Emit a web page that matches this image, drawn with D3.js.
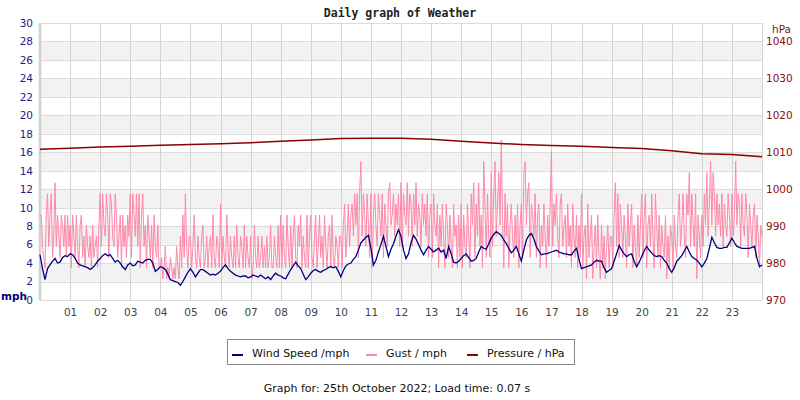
<!DOCTYPE html>
<html>
<head>
<meta charset="utf-8">
<script src="https://cdn.jsdelivr.net/npm/d3@7/dist/d3.min.js"></script>
<style>
  body { margin: 0; background: #fff; }
  svg { display: block; font-family: "DejaVu Sans", sans-serif; }
</style>
</head>
<body>
<div id="chart"></div>
<script>
// wind speed (mph), one reading every 5 minutes from 00:00 to 24:00
var windSpeed = [
  4.9, 3.4, 2.2, 3.4, 3.8, 4.2, 4.5, 4.0, 4.1, 4.6, 4.8, 4.7,
  5.0, 4.9, 4.5, 4.0, 3.8, 3.7, 3.6, 3.5, 3.3, 3.5, 3.8, 4.2,
  4.5, 4.8, 5.0, 4.8, 4.9, 4.5, 4.1, 4.3, 4.0, 3.6, 3.3, 3.8,
  4.0, 3.7, 3.8, 4.2, 4.1, 4.0, 4.3, 4.4, 4.4, 4.0, 3.1, 3.3,
  3.6, 3.5, 3.3, 2.8, 2.2, 2.1, 2.0, 1.9, 1.6, 2.0, 2.5, 3.0,
  3.4, 3.0, 2.5, 2.9, 3.3, 3.3, 3.1, 2.9, 2.7, 2.8, 2.7, 2.9,
  3.1, 3.5, 3.8, 3.4, 3.1, 2.9, 2.7, 2.6, 2.5, 2.6, 2.6, 2.4,
  2.5, 2.7, 2.6, 2.5, 2.7, 2.5, 2.3, 2.5, 2.2, 2.6, 2.9, 2.7,
  2.6, 2.4, 2.3, 2.8, 3.3, 3.7, 4.1, 3.7, 3.4, 2.8, 2.2, 2.5,
  2.9, 3.2, 3.3, 3.1, 3.0, 3.2, 3.3, 3.5, 3.6, 3.5, 3.6, 3.1,
  2.5, 3.2, 3.7, 3.9, 4.0, 4.4, 4.7, 5.4, 6.2, 6.5, 6.8, 7.0,
  5.6, 3.8, 4.3, 5.2, 6.0, 6.9, 5.8, 4.7, 5.5, 6.1, 6.9, 7.6,
  6.9, 5.4, 4.5, 5.0, 6.2, 7.0, 6.6, 6.0, 5.4, 4.9, 5.4, 5.8,
  5.5, 5.2, 5.4, 5.6, 5.2, 5.4, 4.5, 5.8, 5.0, 4.1, 4.0, 4.2,
  4.5, 4.8, 5.0, 4.6, 4.2, 4.3, 4.5, 5.2, 5.8, 5.6, 5.5, 6.1,
  6.7, 7.1, 7.4, 7.2, 7.0, 6.5, 6.1, 5.6, 5.1, 5.4, 5.8, 5.0,
  4.2, 5.4, 6.5, 7.0, 7.2, 6.6, 5.8, 5.3, 4.9, 5.0, 5.0, 5.1,
  5.2, 5.3, 5.4, 5.2, 5.1, 5.0, 5.0, 4.9, 4.9, 5.3, 5.6, 4.4,
  3.4, 3.5, 3.6, 3.7, 3.8, 4.1, 4.3, 4.2, 4.2, 3.5, 3.0, 3.2,
  3.4, 4.2, 5.0, 5.9, 5.4, 5.0, 4.7, 4.9, 5.0, 4.2, 3.6, 4.1,
  4.7, 5.3, 5.8, 5.4, 5.1, 4.8, 4.7, 4.8, 4.7, 4.3, 4.0, 3.4,
  3.0, 3.5, 4.2, 4.5, 4.8, 5.3, 5.8, 5.2, 4.7, 4.5, 4.3, 4.0,
  3.6, 4.0, 4.5, 5.6, 6.8, 6.2, 5.7, 5.6, 5.6, 5.7, 5.7, 6.2,
  6.7, 6.2, 5.8, 5.7, 5.6, 5.6, 5.6, 5.6, 5.7, 5.8, 4.5, 3.6,
  3.8
];

// gust (mph), one reading every 2.5 minutes from 00:00 to 24:00
var gust = [
  9.2, 9.2, 5.8, 4.6, 3.5, 9.2, 11.5, 5.8, 9.2, 11.5, 4.6, 6.9, 12.7, 5.8, 9.2, 6.9, 4.6, 9.2, 8.1, 5.8, 9.2, 4.6, 9.2, 5.8,
  8.1, 3.5, 9.2, 6.9, 4.6, 9.2, 5.8, 3.5, 8.1, 9.2, 4.6, 6.9, 3.5, 8.1, 5.8, 4.6, 6.9, 3.5, 8.1, 4.6, 5.8, 6.9, 3.5, 8.1,
  11.5, 5.8, 11.5, 8.1, 6.9, 11.5, 9.2, 4.6, 11.5, 10.4, 6.9, 5.8, 11.5, 9.2, 4.6, 6.9, 9.2, 3.5, 9.2, 5.8, 8.1, 4.6, 9.2, 6.9,
  11.5, 4.6, 11.5, 9.2, 6.9, 11.5, 5.8, 11.5, 3.5, 9.2, 11.5, 5.8, 8.1, 3.5, 9.2, 6.9, 4.6, 8.1, 3.5, 9.2, 5.8, 4.6, 8.1, 3.5,
  3.5, 4.6, 2.3, 3.5, 5.8, 2.3, 3.5, 2.3, 4.6, 3.5, 2.3, 3.5, 2.3, 5.8, 3.5, 2.3, 6.9, 3.5, 9.2, 4.6, 11.5, 5.8, 3.5, 6.9,
  6.9, 3.5, 5.8, 9.2, 4.6, 3.5, 6.9, 4.6, 3.5, 6.9, 8.1, 3.5, 4.6, 6.9, 3.5, 5.8, 6.9, 3.5, 9.2, 4.6, 3.5, 6.9, 5.8, 3.5,
  10.4, 3.5, 6.9, 4.6, 3.5, 9.2, 5.8, 3.5, 6.9, 4.6, 3.5, 6.9, 3.5, 8.1, 4.6, 3.5, 6.9, 5.8, 3.5, 8.1, 3.5, 6.9, 4.6, 3.5,
  6.9, 2.3, 3.5, 8.1, 4.6, 3.5, 6.9, 3.5, 4.6, 6.9, 3.5, 5.8, 3.5, 6.9, 3.5, 4.6, 8.1, 3.5, 3.5, 6.9, 4.6, 3.5, 8.1, 3.5,
  9.2, 3.5, 8.1, 4.6, 3.5, 9.2, 5.8, 3.5, 8.1, 3.5, 6.9, 9.2, 4.6, 3.5, 8.1, 5.8, 9.2, 3.5, 6.9, 4.6, 3.5, 9.2, 3.5, 6.9,
  9.2, 4.6, 3.5, 6.9, 9.2, 3.5, 5.8, 9.2, 4.6, 6.9, 3.5, 9.2, 5.8, 3.5, 6.9, 8.1, 3.5, 9.2, 4.6, 3.5, 6.9, 5.8, 3.5, 6.9,
  6.9, 3.5, 8.1, 10.4, 4.6, 6.9, 10.4, 5.8, 9.2, 10.4, 6.9, 11.5, 8.1, 11.5, 4.6, 11.5, 15.0, 6.9, 11.5, 9.2, 5.8, 11.5, 8.1, 4.6,
  11.5, 3.5, 9.2, 11.5, 8.1, 5.8, 11.5, 9.2, 6.9, 11.5, 4.6, 10.4, 8.1, 5.8, 11.5, 12.7, 8.1, 9.2, 11.5, 6.9, 10.4, 8.1, 11.5, 5.8,
  12.7, 5.8, 11.5, 9.2, 8.1, 12.7, 6.9, 11.5, 10.4, 5.8, 11.5, 8.1, 12.7, 6.9, 10.4, 9.2, 5.8, 11.5, 8.1, 10.4, 6.9, 11.5, 4.6, 9.2,
  10.4, 4.6, 11.5, 8.1, 6.9, 10.4, 3.5, 9.2, 5.8, 10.4, 6.9, 3.5, 10.4, 8.1, 4.6, 9.2, 5.8, 3.5, 10.4, 6.9, 8.1, 3.5, 9.2, 4.6,
  10.4, 3.5, 9.2, 5.8, 4.6, 10.4, 6.9, 3.5, 11.5, 8.1, 12.7, 4.6, 10.4, 6.9, 12.7, 5.8, 9.2, 3.5, 15.0, 10.4, 4.6, 11.5, 6.9, 4.6,
  13.8, 5.8, 11.5, 15.0, 6.9, 10.4, 13.8, 8.1, 17.3, 9.2, 3.5, 11.5, 6.9, 10.4, 3.5, 8.1, 10.4, 6.9, 4.6, 9.2, 5.8, 10.4, 3.5, 8.1,
  10.4, 4.6, 13.8, 15.0, 8.1, 11.5, 12.7, 4.6, 10.4, 9.2, 6.9, 11.5, 4.6, 9.2, 10.4, 3.5, 8.1, 5.8, 10.4, 6.9, 3.5, 9.2, 5.8, 10.4,
  16.1, 5.8, 10.4, 8.1, 11.5, 6.9, 4.6, 10.4, 11.5, 5.8, 8.1, 9.2, 4.6, 10.4, 5.8, 8.1, 3.5, 10.4, 6.9, 4.6, 9.2, 3.5, 8.1, 4.6,
  11.5, 3.5, 6.9, 8.1, 2.3, 10.4, 4.6, 6.9, 9.2, 2.3, 5.8, 8.1, 3.5, 9.2, 4.6, 2.3, 8.1, 3.5, 6.9, 2.3, 5.8, 8.1, 3.5, 6.9,
  6.9, 3.5, 9.2, 12.7, 5.8, 11.5, 4.6, 10.4, 8.1, 4.6, 9.2, 6.9, 3.5, 10.4, 5.8, 8.1, 10.4, 3.5, 8.1, 5.8, 3.5, 9.2, 4.6, 8.1,
  11.5, 4.6, 9.2, 11.5, 3.5, 8.1, 9.2, 5.8, 11.5, 6.9, 3.5, 11.5, 8.1, 4.6, 9.2, 3.5, 8.1, 5.8, 4.6, 9.2, 2.3, 6.9, 3.5, 8.1,
  6.9, 3.5, 9.2, 5.8, 4.6, 9.2, 11.5, 5.8, 8.1, 11.5, 6.9, 4.6, 11.5, 9.2, 13.8, 5.8, 11.5, 8.1, 5.8, 11.5, 2.3, 9.2, 6.9, 4.6,
  9.2, 5.8, 11.5, 8.1, 13.8, 6.9, 10.4, 15.0, 8.1, 13.8, 11.5, 6.9, 11.5, 8.1, 10.4, 6.9, 11.5, 5.8, 10.4, 8.1, 6.9, 11.5, 9.2, 5.8,
  11.5, 6.9, 9.2, 15.0, 8.1, 11.5, 10.4, 5.8, 11.5, 8.1, 6.9, 11.5, 9.2, 4.6, 10.4, 8.1, 5.8, 9.2, 10.4, 4.6, 9.2, 6.9, 3.5, 8.1,
  6.9
];

// pressure (hPa), hourly from 00:00 to 24:00
var pressure = [
  1010.8, 1011.1, 1011.4, 1011.6, 1011.9, 1012.1, 1012.3, 1012.6,
  1013.0, 1013.3, 1013.7, 1013.8, 1013.8, 1013.5, 1013.0, 1012.5,
  1012.1, 1011.8, 1011.6, 1011.3, 1011.0, 1010.4, 1009.6, 1009.4,
  1008.8
];

var hourLabels = ["01", "02", "03", "04", "05", "06", "07", "08", "09", "10", "11", "12",
  "13", "14", "15", "16", "17", "18", "19", "20", "21", "22", "23"];
var mphTicks = [0, 2, 4, 6, 8, 10, 12, 14, 16, 18, 20, 22, 24, 26, 28, 30];
var hpaTicks = [970, 980, 990, 1000, 1010, 1020, 1030, 1040];
var legendItems = [
  { label: "Wind Speed /mph", color: "#000080" },
  { label: "Gust / mph", color: "#ff88aa" },
  { label: "Pressure / hPa", color: "#8b0000" }
];

function renderWeatherGraph(containerSelector) {
  var margin = { top: 23, right: 38, bottom: 100, left: 40 };
  var width = 800 - margin.left - margin.right;
  var height = 400 - margin.top - margin.bottom;

  var root = d3
    .select(containerSelector)
    .append("svg")
    .attr("width", 800)
    .attr("height", 400);

  root
    .append("text")
    .attr("x", 400)
    .attr("y", 17)
    .attr("text-anchor", "middle")
    .style("font-family", "'DejaVu Sans Mono', monospace")
    .style("font-size", "11.5px")
    .style("font-weight", "bold")
    .style("fill", "#222")
    .text("Daily graph of Weather");

  var svg = root
    .append("g")
    .attr("transform", "translate(" + margin.left + "," + margin.top + ")");

  var x = d3.scaleLinear().domain([0, 24]).range([0, width]);
  var y = d3.scaleLinear().domain([0, 30]).range([height, 0]);
  var yP = d3.scaleLinear().domain([970, 1045]).range([height, 0]);

  // alternating bands
  svg
    .selectAll("rect.band")
    .data(mphTicks.filter(function (d) { return d % 4 === 2 && d < 30; }))
    .enter()
    .append("rect")
    .attr("x", 0)
    .attr("width", width)
    .attr("y", function (d) { return y(d + 2); })
    .attr("height", function (d) { return y(d) - y(d + 2); })
    .attr("fill", "#f2f2f2");

  svg
    .selectAll("line.hgrid")
    .data(mphTicks)
    .enter()
    .append("line")
    .attr("x1", 0)
    .attr("x2", width)
    .attr("y1", function (d) { return Math.round(y(d)) + 0.5; })
    .attr("y2", function (d) { return Math.round(y(d)) + 0.5; })
    .attr("stroke", "#dcdcdc");

  svg
    .selectAll("line.vgrid")
    .data(d3.range(1, 25))
    .enter()
    .append("line")
    .attr("x1", function (d) { return Math.round(x(d)) + 0.5; })
    .attr("x2", function (d) { return Math.round(x(d)) + 0.5; })
    .attr("y1", 0)
    .attr("y2", height)
    .attr("stroke", "#d3d3d3");

  svg
    .append("line")
    .attr("x1", 0)
    .attr("x2", 0)
    .attr("y1", 0)
    .attr("y2", height)
    .attr("stroke", "#d0d0d0")
    .attr("stroke-width", 2.5);

  var leftAxis = svg
    .append("g")
    .call(d3.axisLeft(y).tickValues(mphTicks).tickSize(0).tickPadding(7));
  leftAxis.select(".domain").remove();
  leftAxis
    .selectAll("text")
    .style("font-family", "'DejaVu Sans', sans-serif")
    .style("font-size", "10.5px")
    .style("fill", "#1c1c8e");

  var rightAxis = svg
    .append("g")
    .attr("transform", "translate(" + width + ",0)")
    .call(
      d3
        .axisRight(yP)
        .tickValues(hpaTicks)
        .tickSize(0)
        .tickPadding(4)
        .tickFormat(d3.format("d"))
    );
  rightAxis.select(".domain").remove();
  rightAxis
    .selectAll("text")
    .style("font-family", "'DejaVu Sans', sans-serif")
    .style("font-size", "10.5px")
    .style("fill", "#8b1010");

  var bottomAxis = svg
    .append("g")
    .attr("transform", "translate(0," + height + ")")
    .call(
      d3
        .axisBottom(x)
        .tickValues(d3.range(1, 24))
        .tickSize(0)
        .tickPadding(9)
        .tickFormat(function (d) { return hourLabels[d - 1]; })
    );
  bottomAxis.select(".domain").remove();
  bottomAxis
    .selectAll("text")
    .style("font-family", "'DejaVu Sans', sans-serif")
    .style("font-size", "10.5px")
    .style("fill", "#444");

  root
    .append("text")
    .attr("x", 1)
    .attr("y", 300)
    .style("font-size", "10.5px")
    .style("font-weight", "bold")
    .style("fill", "#000080")
    .text("mph");

  root
    .append("text")
    .attr("x", 772)
    .attr("y", 33)
    .style("font-size", "10.5px")
    .style("fill", "#8b1010")
    .text("hPa");

  var gustLine = d3
    .line()
    .x(function (d, i) { return x(i / 24); })
    .y(function (d) { return y(d); });

  var windLine = d3
    .line()
    .x(function (d, i) { return x(i / 12); })
    .y(function (d) { return y(d); });

  var pressureLine = d3
    .line()
    .x(function (d, i) { return x(i); })
    .y(function (d) { return yP(d); });

  svg
    .append("path")
    .datum(gust)
    .attr("fill", "none")
    .attr("stroke", legendItems[1].color)
    .attr("stroke-width", 1)
    .attr("d", gustLine);

  svg
    .append("path")
    .datum(windSpeed)
    .attr("fill", "none")
    .attr("stroke", legendItems[0].color)
    .attr("stroke-width", 1.3)
    .attr("d", windLine);

  svg
    .append("path")
    .datum(pressure)
    .attr("fill", "none")
    .attr("stroke", legendItems[2].color)
    .attr("stroke-width", 1.5)
    .attr("d", pressureLine);

  // legend
  var legend = root.append("g").attr("transform", "translate(227,339)");
  legend
    .append("rect")
    .attr("x", 0.5)
    .attr("y", 0.5)
    .attr("width", 347)
    .attr("height", 25)
    .attr("fill", "#fff")
    .attr("stroke", "#888");

  var offsets = [5, 139, 240];
  legendItems.forEach(function (item, i) {
    legend
      .append("line")
      .attr("x1", offsets[i])
      .attr("x2", offsets[i] + 11)
      .attr("y1", 16)
      .attr("y2", 16)
      .attr("stroke", item.color)
      .attr("stroke-width", 2);
    legend
      .append("text")
      .attr("x", offsets[i] + 20)
      .attr("y", 18)
      .style("font-size", "11px")
      .style("fill", "#111")
      .text(item.label);
  });

  root
    .append("text")
    .attr("x", 397)
    .attr("y", 392)
    .attr("text-anchor", "middle")
    .style("font-size", "11px")
    .style("fill", "#111")
    .text("Graph for: 25th October 2022; Load time: 0.07 s");
}

renderWeatherGraph("#chart");
</script>
</body>
</html>
